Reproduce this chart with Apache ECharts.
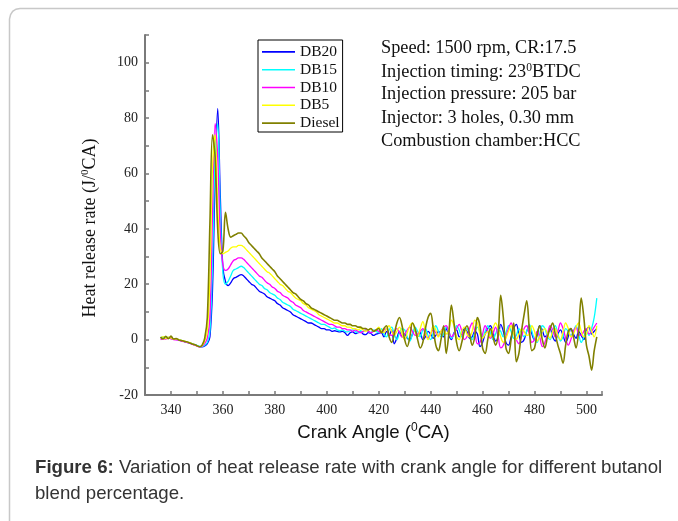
<!DOCTYPE html>
<html>
<head>
<meta charset="utf-8">
<script src="https://cdn.jsdelivr.net/npm/echarts@6/dist/echarts.min.js"></script>
<style>
html,body{margin:0;padding:0;background:#fff;}
#chart{width:678px;height:521px;}
</style>
</head>
<body>
<div id="chart"></div>
<script>
const crankAngle = [
336,337,338,339,340,341,342,343,344,345,
346,347,348,349,350,351,352,353,354,355,
356,357,358,359,360,361,362,363,364,365,
366,367,368,369,370,371,372,373,374,375,
376,377,378,379,380,381,382,383,384,385,
386,387,388,389,390,391,392,393,394,395,
396,397,398,399,400,401,402,403,404,405,
406,407,408,409,410,411,412,413,414,415,
416,417,418,419,420,421,422,423,424,425,
426,427,428,429,430,431,432,433,434,435,
436,437,438,439,440,441,442,443,444,445,
446,447,448,449,450,451,452,453,454,455,
456,457,458,459,460,461,462,463,464,465,
466,467,468,469,470,471,472,473,474,475,
476,477,478,479,480,481,482,483,484,485,
486,487,488,489,490,491,492,493,494,495,
496,497,498,499,500,501,502,503,504];

const seriesNames = ['DB20','DB15','DB10','DB5','Diesel'];

const db20 = [
0.8,0.6,1.0,0.5,0.7,0.3,0.1,-0.2,-0.4,-0.6,
-0.9,-1.2,-1.5,-1.8,-2.2,-2.5,-2.6,-2.3,-1.5,1.0,
18,58,83.5,52,26,21,19.5,20.5,22,22.5,
23,23.5,23,22,21,20,19.5,18.5,17.5,17,
16.5,15.5,15,14.5,14,13,12.5,11.5,11,10.5,
10,9,8.5,8,7.5,7,6.5,6,6,5.5,
5,4.5,4,4,3.5,3.5,3,3.2,3,2.8,
3,2.5,1.5,2.5,2.8,2.2,2.5,2.8,2,1.8,
2.5,2.2,1.5,2,2.3,2.5,1,3,1.5,3.5,
-1.5,0.5,3,1,2,0.5,0,2,3.5,1,
2.5,0,1,3,2,0.5,1.5,3,2,1,
4,1.5,0,2.5,3.5,1,2,4,3,0.5,
1,3,2,-2.5,-1,2,4,5,3,-0.5,
1,5.5,3,-1,-2,1,4,5.5,2,-1,
0,3,5,2,0,1.5,5,3.5,1,2,
4,1,-0.5,2,3.5,1.5,-1,1,4,2,
0.5,3,1.5,0,3.5,4.5,2,3,4];

const db15 = [
0.5,0.9,0.6,0.8,0.4,0.2,0.2,-0.1,-0.3,-0.6,
-0.8,-1.1,-1.4,-1.8,-2.1,-2.4,-2.5,-2.0,-1.0,3.0,
28,66,78,45,24,20,21,23,25,25.5,
26,26.5,26,25,24,23,22,21,20,19.5,
18.5,18,17,16.5,16,15,14.5,13.5,13,12.5,
12,11,10.5,10,9.5,9,8.5,8,7.5,7,
6.5,6,5.5,5.5,5,4.5,4,4.2,3.5,3.2,
3.5,3,2.8,3.2,3.5,3,2.5,3.2,2.8,3.5,
3,2.5,3.5,3,2.5,4,2,1,3.5,4.5,
2,0,2.5,4,3.5,1,-0.5,2,4.5,3,
1,3.5,4,1.5,0,2.5,5,3,1,2,
4.5,3,0.5,2,5,3.5,1,3,4,2,
0,2.5,4.5,3,1,3,5,2.5,0,2,
4,3,1,2.5,5,3,0.5,1.5,4,2.5,
1,3,5.5,3,0,-1,2,5,4,1,
0,3,5,2,-0.5,1,4,3,1.5,3,
5,2,-1,1,3,1.5,4,8,15];

const db10 = [
0.0,0.4,0.2,0.6,0.3,0.0,-0.1,-0.2,-0.5,-0.7,
-1.0,-1.2,-1.6,-2.0,-2.3,-2.6,-2.4,-1.5,0.5,8,
45,78,66,38,27,25,25.5,27,28.5,29,
29.5,29.5,29,28,27,26,25,24,23,22.5,
21.5,20.5,20,19,18.5,17.5,17,16,15.5,15,
14,13.5,12.5,12,11.5,10.5,10,9.5,9,8.5,
8,7.5,7,6.5,6,5.5,5.5,5,4.5,4.5,
4,4,3.5,3.5,3,3.5,3,2.5,3,3.5,
3,2.5,3,3.5,3,2.5,3.5,4,2,1.5,
3,4,2.5,1,2,3.5,4.5,3,1.5,2,
3,4,2,0.5,2,3.5,2.5,1.5,3,4.5,
5,3,1,2,4,5.5,3,0,1,4,
6,3,-1.5,-1,2,5,3,0.5,2,4.5,
1,-3,-2,1,4,6,3,0,-1.5,1,
4,5,2,-1,0,3,1,-2.5,-1,2,
5,3.5,1,3,6,4,0.5,-2,0,3,
4.5,2,1.5,3,4,2,3,4.5,6];

const db5 = [
0.6,1.1,0.4,0.9,0.6,0.2,0.3,0.0,-0.3,-0.5,
-0.8,-1.0,-1.4,-1.8,-2.2,-2.5,-2.2,-0.5,3,22,
62,74,48,33,31,31.5,32,33,33.5,33.5,
34,34,33.5,32.5,31.5,30.5,29.5,28.5,27.5,26.5,
25.5,24.5,24,23,22,21,20,19.5,18.5,17.5,
17,16,15,14.5,14,13,12.5,11.5,11,10.5,
10,9,8.5,8,7.5,7,6.5,6,6,5.5,
5,5,4.5,4.5,4,4,3.5,4,3.5,3,
3.5,4,3,3.5,4.5,3,2.5,4,5,3,
1.5,3,4.5,2,0,2.5,5,6,3,1,
4,6.5,3,0,2,5,3.5,1,3,4,
2,3.5,7,5,1,0,3,4.5,2,1,
3,7,6,2,0.5,2,3,1,4,6,
4,1,-1,0.5,3,5,2,0,2,4,
3,1.5,2,5,3,-0.5,1,3,4,2,
0.5,3,4,1.5,0,3,6,4,1,2,
4.5,6,3,1,2,5,3,1,5];

const diesel = [
0.9,0.2,1.2,0.3,1.3,0.2,0.4,-0.1,-0.3,-0.6,
-0.8,-1.1,-1.5,-1.8,-2.2,-2.6,-2.0,0.5,8,42,
74,66,40,31,32,46,40,37,37.5,38,
38.5,38.5,37.5,36.5,35,34,33,32,31,29.5,
28.5,27.5,26.5,25.5,24.5,23,22,21,20,19,
18,17,16.5,15.5,14.5,14,13,12.5,11.5,11,
10.5,10,9.5,9,8.5,8,7.5,7,7,6.5,
6,6,5.5,5.5,5,5,4.5,4.5,4,4,
3.5,4,3,3.5,4,2.5,4,5,1,-1,
2,6,8,5,0,-2.5,1,6,4,0,
-3,-1,4,8,9.5,4,-2,-4,0,5,
-5,2,12.5,6,-1,-4,-1,3,5,2,
-2,1,8,5,-3,-5,0,4,1,-2,
2,16,8,-3,-5,0,6,-8,-5,3,
9,14,4,-4,-3,2,5,0,-3,1,
4,6,2,-2,-5,-8.5,-2,3,4,1,
-3,3,15,8,-2,-6,-11,-4,1];

const seriesColors = ['#0000ff','#00ffff','#ff00ff','#ffff00','#808000'];
const seriesValues = [db20, db15, db10, db5, diesel];

const annotationLines = [
  'Speed: 1500 rpm, CR:17.5',
  'Injection timing: 23{sup|0}BTDC',
  'Injection pressure: 205 bar',
  'Injector: 3 holes, 0.30 mm',
  'Combustion chamber:HCC'
];

const chart = echarts.init(document.getElementById('chart'), null, {renderer: 'canvas'});
const serif = '"Liberation Serif", "Times New Roman", serif';
const sans = '"Liberation Sans", Arial, sans-serif';
const axisGray = '#7a7a7a';

const series = seriesNames.map((name, k) => ({
  name: name,
  type: 'line',
  data: crankAngle.map((x, i) => [x, seriesValues[k][i]]),
  symbol: 'none',
  smooth: 0.35,
  lineStyle: {color: seriesColors[k], width: k === 4 ? 1.6 : 1.3},
  itemStyle: {color: seriesColors[k]},
  z: 2 + k
}));

const annotationGraphics = annotationLines.map((t, i) => ({
  type: 'text',
  left: 381,
  top: 39 + i * 23.3,
  style: {
    text: t,
    font: '18.3px ' + serif,
    fill: '#111',
    rich: {
      sup: {fontSize: 11.5, fontFamily: serif, fill: '#111', padding: [0, 0, 8, 0]}
    }
  }
}));

chart.setOption({
  animation: false,
  backgroundColor: '#fff',
  grid: {left: 145, right: 76, top: 35, bottom: 126, containLabel: false},
  legend: {
    data: seriesNames,
    orient: 'vertical',
    left: 258,
    top: 40,
    icon: 'rect',
    itemWidth: 33,
    itemHeight: 1.6,
    itemGap: 0,
    padding: [3, 3, 0, 4],
    borderColor: '#000',
    borderWidth: 1,
    textStyle: {fontFamily: serif, fontSize: 15.5, color: '#111', lineHeight: 17.8}
  },
  xAxis: {
    type: 'value',
    min: 330,
    max: 506,
    interval: 10,
    name: 'Crank Angle ({sup|0}CA)',
    nameLocation: 'middle',
    nameGap: 26,
    nameTextStyle: {
      fontFamily: sans, fontSize: 18.6, color: '#111',
      rich: {sup: {fontFamily: sans, fontSize: 12, color: '#111', padding: [0, 0, 9, 0]}}
    },
    axisLine: {show: true, onZero: false, lineStyle: {color: axisGray, width: 2}},
    axisTick: {show: true, inside: true, length: 4, lineStyle: {color: axisGray, width: 1.5}},
    axisLabel: {
      fontFamily: serif, fontSize: 14, color: '#222', margin: 8,
      formatter: v => (v >= 340 && v <= 500 && (v - 340) % 20 === 0) ? String(v) : ''
    },
    splitLine: {show: false}
  },
  yAxis: {
    type: 'value',
    min: -20,
    max: 110,
    interval: 10,
    name: 'Heat release rate (J/{sup|0}CA)',
    nameLocation: 'middle',
    nameGap: 45,
    nameRotate: 90,
    nameTextStyle: {
      fontFamily: serif, fontSize: 18, color: '#111',
      padding: [0, 26, 0, 0],
      rich: {sup: {fontFamily: serif, fontSize: 11, color: '#111', padding: [0, 0, 9, 0]}}
    },
    axisLine: {show: true, onZero: false, lineStyle: {color: axisGray, width: 2}},
    axisTick: {show: true, inside: true, length: 4, lineStyle: {color: axisGray, width: 1.5}},
    axisLabel: {
      fontFamily: serif, fontSize: 14, color: '#222', margin: 7,
      formatter: v => (v % 20 === 0) ? String(v) : ''
    },
    splitLine: {show: false}
  },
  series: series,
  graphic: [
    {
      type: 'polyline',
      shape: {points: [[680, 8.5], [20, 8.5], [16, 9.2], [12.7, 11.3], [10.6, 14.6], [9.5, 19], [9.5, 521]]},
      style: {stroke: '#c8c8c8', lineWidth: 1.5, fill: null}
    },
    ...annotationGraphics,
    {
      type: 'text',
      left: 35,
      top: 458,
      style: {
        text: '{b|Figure 6:} Variation of heat release rate with crank angle for different butanol',
        font: '18.65px ' + sans,
        fill: '#333',
        rich: {b: {fontWeight: 'bold', fontFamily: sans, fontSize: 18.65, fill: '#333'}}
      }
    },
    {
      type: 'text',
      left: 35,
      top: 484,
      style: {text: 'blend percentage.', font: '18.65px ' + sans, fill: '#333'}
    }
  ]
});
</script>
</body>
</html>
